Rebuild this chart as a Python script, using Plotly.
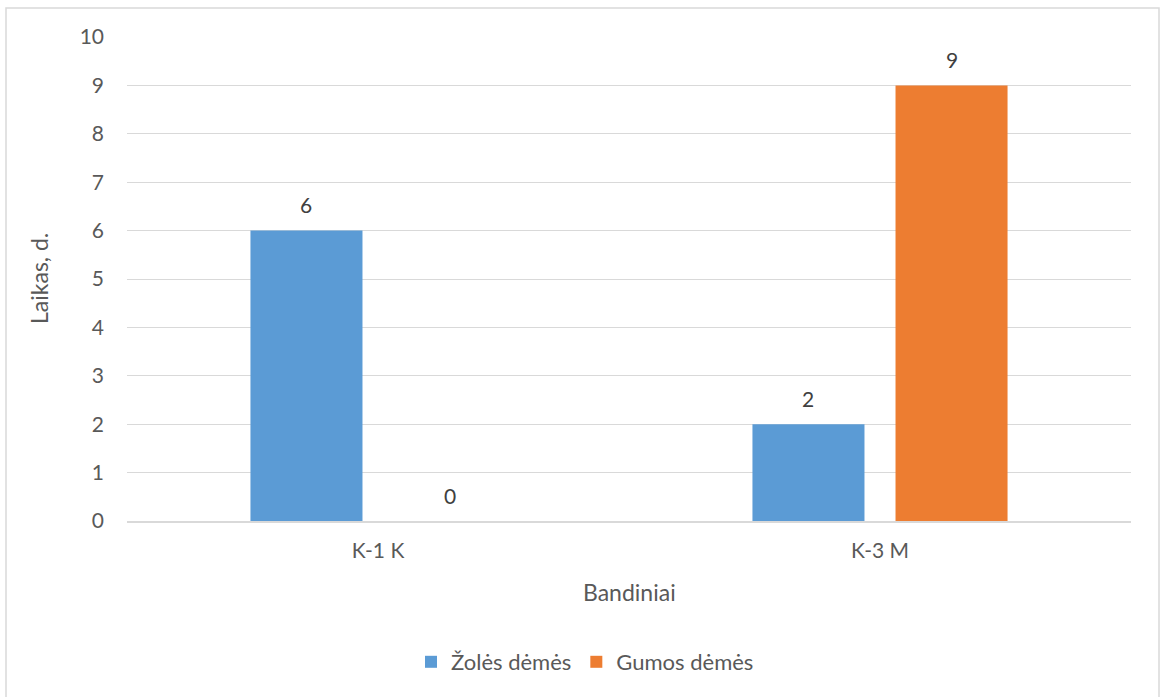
import plotly.graph_objects as go

# Sample groups and the two stain types
categories = ["K-1 K", "K-3 M"]
series_names = ["Žolės dėmės", "Gumos dėmės"]
zoles_values = [6, 2]
gumos_values = [0, 9]
y_ticks = list(range(0, 11))

FONT = "Lato, 'Open Sans', sans-serif"
TEXT = "#595959"
GRID = "#d9d9d9"
BLUE = "#5B9BD5"
ORANGE = "#ED7D31"

W, H = 1161, 697
L, R, T, B = 127, 30, 37, 176
plot_w = W - L - R
plot_h = H - T - B


def px_x(x):
    return (x - L) / plot_w


def px_y(y):
    return (H - B - y) / plot_h


fig = go.Figure()
for name, vals, col in [(series_names[0], zoles_values, BLUE),
                        (series_names[1], gumos_values, ORANGE)]:
    fig.add_trace(go.Bar(
        name=name, x=categories, y=vals, marker=dict(color=col, line=dict(width=0)),
        offsetgroup=name,
    ))

# Value labels above each bar
anns = []
offsets = [-0.5, 0.5]
for (vals, off) in zip([zoles_values, gumos_values], offsets):
    for i, v in enumerate(vals):
        anns.append(dict(
            x=i + off * 0.285, y=v, xref="x", yref="y", text=str(v),
            showarrow=False, yanchor="middle", yshift=26,
            font=dict(family=FONT, size=21, color="#404040"),
        ))

# Axis titles
anns.append(dict(x=0.5, y=px_y(592), xref="paper", yref="paper", text="Bandiniai",
                 showarrow=False, xanchor="center", yanchor="middle",
                 font=dict(family=FONT, size=23, color=TEXT)))
anns.append(dict(x=px_x(39), y=0.5, xref="paper", yref="paper", text="Laikas, d.",
                 showarrow=False, textangle=-90, xanchor="center", yanchor="middle",
                 font=dict(family=FONT, size=23, color=TEXT)))

fig.update_layout(
    width=W, height=H,
    margin=dict(l=L, r=R, t=T, b=B),
    paper_bgcolor="white", plot_bgcolor="white",
    barmode="group", bargap=0.43, bargroupgap=0.217,
    font=dict(family=FONT, size=21, color=TEXT),
    annotations=anns,
    legend=dict(orientation="h", x=px_x(585), xanchor="center",
                y=px_y(662), yanchor="middle",
                font=dict(family=FONT, size=22, color=TEXT),
                itemwidth=30, tracegroupgap=0),
    shapes=[dict(type="rect", xref="paper", yref="paper",
                 x0=px_x(6), x1=px_x(1159), y0=px_y(8), y1=px_y(710),
                 line=dict(color=GRID, width=1.5), layer="below")],
    showlegend=True,
)
fig.update_xaxes(
    showgrid=False, showline=True, linecolor=GRID, linewidth=1.5,
    ticks="", ticklabelstandoff=10, tickfont=dict(family=FONT, size=21, color=TEXT),
    range=[-0.5, 1.5], fixedrange=True,
)
fig.update_yaxes(
    range=[0, 10], tickvals=y_ticks, showgrid=True, gridcolor=GRID, gridwidth=1.3,
    zeroline=False, showline=False, ticks="", ticklabelstandoff=22,
    tickfont=dict(family=FONT, size=21, color=TEXT),
)

fig.write_html("out.html")
